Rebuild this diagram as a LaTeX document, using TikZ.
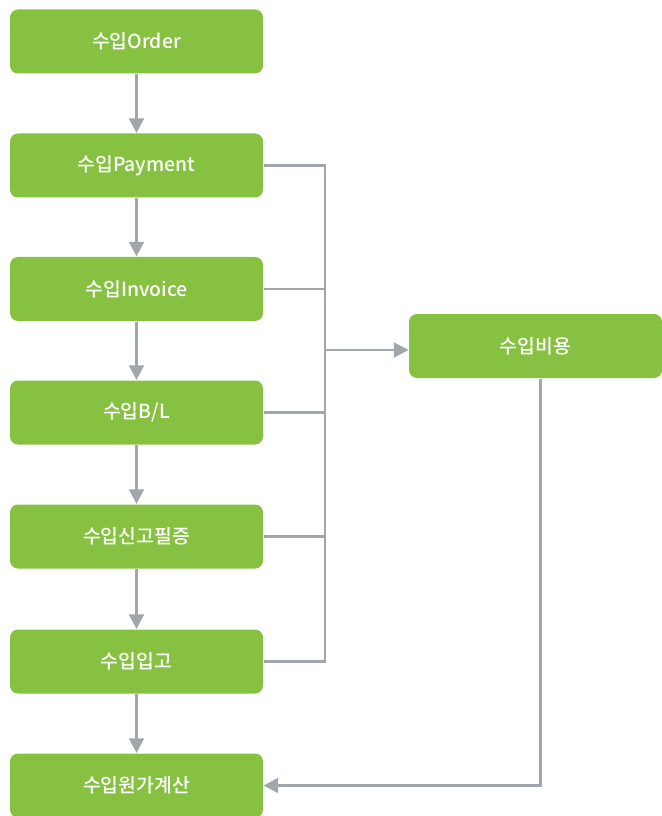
\documentclass[tikz,border=0pt]{standalone}
\usepackage{fontspec}
\setmainfont{Noto Sans CJK KR}[BoldFont={Noto Sans CJK KR Medium}]
\usetikzlibrary{arrows.meta}

\definecolor{stepgreen}{RGB}{135,193,66}
\definecolor{linkgray}{RGB}{160,166,172}

\tikzset{every picture/.style={line width=0.75pt}}
\tikzset{
  flowbox/.style={draw=none, fill=stepgreen, rounded corners=6pt, minimum width=189.75pt, minimum height=48pt, inner sep=0pt, text=white, font=\fontsize{14.5}{16}\selectfont\bfseries},
  link/.style={draw=linkgray, line width=2.2pt},
  linkarrow/.style={link, -{Triangle[length=11pt,width=11pt]}}
}

\begin{document}
\begin{tikzpicture}[x=0.75pt,y=0.75pt,yscale=-1,xscale=1]
\useasboundingbox (0,0) rectangle (661,816);

% Left column
\node[flowbox] (order) at (136.5,41.5) {수입Order};
\node[flowbox] (payment) at (136.5,165.5) {수입Payment};
\node[flowbox] (invoice) at (136.5,289) {수입Invoice};
\node[flowbox] (bl) at (136.5,412.5) {수입B/L};
\node[flowbox] (customs) at (136.5,536.5) {수입신고필증};
\node[flowbox] (receipt) at (136.5,661.5) {수입입고};
\node[flowbox] (costcalc) at (136.5,785.5) {수입원가계산};
% Right box
\node[flowbox] (expense) at (535.5,346) {수입비용};

% Down arrows
\draw[linkarrow] (order) -- (payment);
\draw[linkarrow] (payment) -- (invoice);
\draw[linkarrow] (invoice) -- (bl);
\draw[linkarrow] (bl) -- (customs);
\draw[linkarrow] (customs) -- (receipt);
\draw[linkarrow] (receipt) -- (costcalc);

% Collector line
\coordinate (trunk) at (325,350);
\draw[link] (payment.east) -| (trunk);
\draw[link] (receipt.east) -| (trunk);
\draw[link] (invoice.east) -- (invoice.east -| trunk);
\draw[link] (bl.east) -- (bl.east -| trunk);
\draw[link] (customs.east) -- (customs.east -| trunk);
\draw[linkarrow] (trunk) -- (trunk -| expense.west);

% Back to cost calculation
\draw[linkarrow] ([xshift=3.5pt]expense.south) |- (costcalc.east);

\end{tikzpicture}
\end{document}
